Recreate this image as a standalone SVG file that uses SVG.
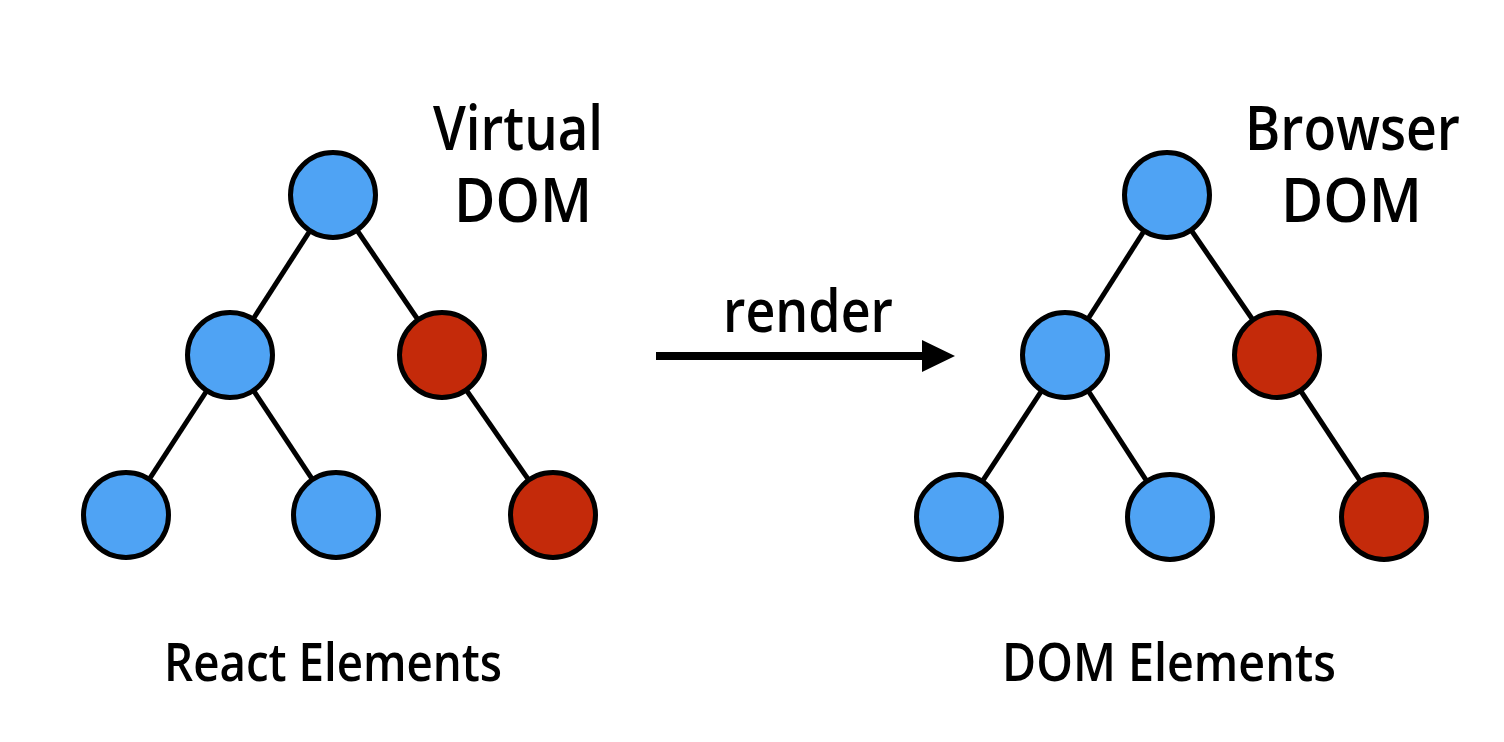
<svg xmlns="http://www.w3.org/2000/svg" width="1504" height="742" viewBox="0 0 1504 742">
<style>
.edge{stroke:#000;stroke-width:5;fill:none}
.b{fill:#4FA3F4;stroke:#000;stroke-width:5}
.r{fill:#C42A0A;stroke:#000;stroke-width:5}
.t{font-family:"Open Sans","Noto Sans",sans-serif;font-weight:600;fill:#000}
.big{font-size:62px}
.mid{font-size:60px}
.lbl{font-size:52px}
</style>
<rect width="1504" height="742" fill="#fff"/>
<g id="connectors">
<line class="edge" x1="333" y1="195" x2="230" y2="355"/>
<line class="edge" x1="333" y1="195" x2="442" y2="355"/>
<line class="edge" x1="230" y1="355" x2="126" y2="515"/>
<line class="edge" x1="230" y1="355" x2="336" y2="515"/>
<line class="edge" x1="442" y1="355" x2="553" y2="515"/>
<line class="edge" x1="1167" y1="195" x2="1065" y2="355"/>
<line class="edge" x1="1167" y1="195" x2="1277" y2="355"/>
<line class="edge" x1="1065" y1="355" x2="959" y2="517"/>
<line class="edge" x1="1065" y1="355" x2="1170" y2="517"/>
<line class="edge" x1="1277" y1="355" x2="1384" y2="517"/>
<line x1="656" y1="356" x2="926" y2="356" stroke="#000" stroke-width="8"/>
<polygon points="922,340 955,356 922,372" fill="#000"/>
</g>
<g id="v1"><circle class="b" cx="333" cy="195" r="42.5"/></g>
<g id="v2"><circle class="b" cx="230" cy="355" r="42.5"/></g>
<g id="v3"><circle class="r" cx="442" cy="355" r="42.5"/></g>
<g id="v4"><circle class="b" cx="126" cy="515" r="42.5"/></g>
<g id="v5"><circle class="b" cx="336" cy="515" r="42.5"/></g>
<g id="v6"><circle class="r" cx="553" cy="515" r="42.5"/></g>
<g id="d1"><circle class="b" cx="1167" cy="195" r="42.5"/></g>
<g id="d2"><circle class="b" cx="1065" cy="355" r="42.5"/></g>
<g id="d3"><circle class="r" cx="1277" cy="355" r="42.5"/></g>
<g id="d4"><circle class="b" cx="959" cy="517" r="42.5"/></g>
<g id="d5"><circle class="b" cx="1170" cy="517" r="42.5"/></g>
<g id="d6"><circle class="r" cx="1384" cy="517" r="42.5"/></g>
<g id="labels">
<text class="t big" x="433" y="150" textLength="170" lengthAdjust="spacingAndGlyphs">Virtual</text>
<text class="t big" x="454" y="222" textLength="138" lengthAdjust="spacingAndGlyphs">DOM</text>
<text class="t big" x="1245" y="150" textLength="215" lengthAdjust="spacingAndGlyphs">Browser</text>
<text class="t big" x="1281" y="222" textLength="141" lengthAdjust="spacingAndGlyphs">DOM</text>
<text class="t mid" x="723" y="332" textLength="170" lengthAdjust="spacingAndGlyphs">render</text>
<text class="t lbl" x="164" y="681" textLength="338" lengthAdjust="spacingAndGlyphs">React Elements</text>
<text class="t lbl" x="1002" y="681" textLength="334" lengthAdjust="spacingAndGlyphs">DOM Elements</text>
</g>
</svg>
